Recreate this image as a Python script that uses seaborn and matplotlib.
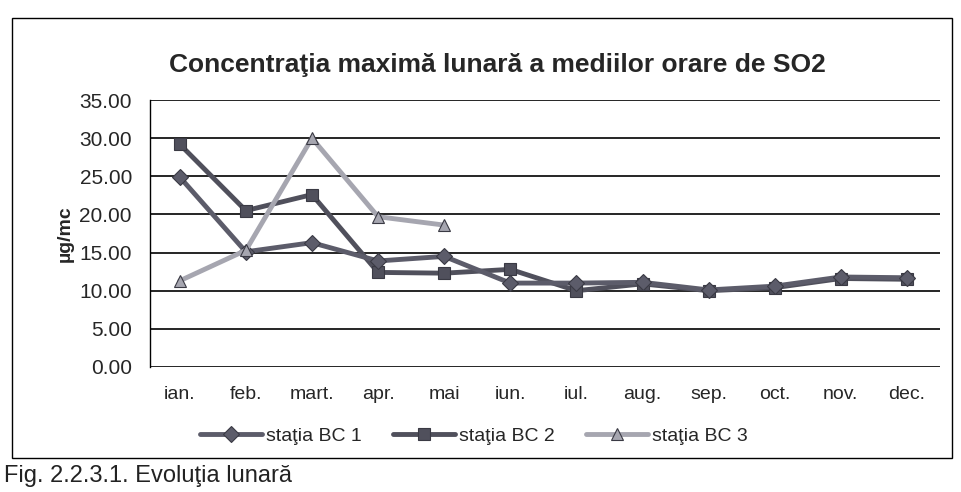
import pandas as pd
import matplotlib.pyplot as plt
import matplotlib.patches as mpatches
import seaborn as sns

# values (µg/mc)
luni = ['ian.', 'feb.', 'mart.', 'apr.', 'mai', 'iun.', 'iul.', 'aug.', 'sep.', 'oct.', 'nov.', 'dec.']
bc1 = [24.9, 15.1, 16.3, 13.9, 14.5, 11.0, 11.0, 11.1, 10.1, 10.6, 11.8, 11.7]
bc2 = [29.2, 20.5, 22.6, 12.4, 12.3, 12.8, 10.0, 10.9, 10.0, 10.4, 11.6, 11.5]
bc3 = [11.3, 15.3, 30.0, 19.7, 18.6, None, None, None, None, None, None, None]
serii = ['staţia BC 1', 'staţia BC 2', 'staţia BC 3']
y_ticks = [0, 5, 10, 15, 20, 25, 30, 35]

sns.set_style('white')
plt.rcParams['font.family'] = ['Liberation Sans', 'DejaVu Sans']

fig = plt.figure(figsize=(9.62, 4.92), dpi=100)
ax = fig.add_axes([150 / 962, 1 - 367 / 492, 790 / 962, 267 / 492])

x = list(range(len(luni)))
stil = {
    'staţia BC 2': dict(color='#50505c', marker='s', markersize=8, z=3),
    'staţia BC 1': dict(color='#5c5c6a', marker='D', markersize=8, z=4),
    'staţia BC 3': dict(color='#a6a6b0', marker='^', markersize=9, z=5),
}
for nume, vals in [('staţia BC 2', bc2), ('staţia BC 1', bc1), ('staţia BC 3', bc3)]:
    df = pd.DataFrame({'x': x, 'v': vals}).dropna()
    s = stil[nume]
    sns.lineplot(data=df, x='x', y='v', ax=ax, color=s['color'], marker=s['marker'],
                 markersize=s['markersize'], markeredgecolor='#3a3a44', markeredgewidth=0.8,
                 linewidth=3.5, label=nume, zorder=s['z'])

# black horizontal gridlines like the Excel chart
for t in y_ticks:
    ax.axhline(t, color='black', linewidth=1.2, zorder=1)

ax.set_xlim(-0.45, 11.5)
ax.set_ylim(0, 35)
ax.set_yticks(y_ticks)
ax.set_yticklabels([f'{t:.2f}' for t in y_ticks], fontsize=15)
ax.set_xticks(x)
ax.set_xticklabels(luni, fontsize=14)
ax.tick_params(axis='y', length=7, width=1, color='black', direction='out', pad=6)
ax.tick_params(axis='x', length=0, pad=14)
for side in ['top', 'right', 'bottom']:
    ax.spines[side].set_visible(False)
ax.spines['left'].set_color('black')
ax.spines['left'].set_linewidth(1)
ax.set_xlabel('')
ax.set_ylabel('µg/mc', fontsize=14, fontweight='bold', labelpad=4)

ax.set_title('Concentraţia maximă lunară a mediilor orare de SO2', fontsize=19,
             fontweight='bold', pad=20, x=0.44)

# legend order as in the reference
h, l = ax.get_legend_handles_labels()
ordine = [l.index(n) for n in serii]
ax.legend([h[i] for i in ordine], serii, loc='upper center', bbox_to_anchor=(0.41, -0.16),
          ncol=3, frameon=False, fontsize=14, handlelength=3.2, handletextpad=0.2,
          columnspacing=1.6)

# outer chart frame and the caption of the scan
fig.patches.append(mpatches.Rectangle((12 / 962, 1 - 458 / 492), 940 / 962, 440 / 492,
                                      transform=fig.transFigure, fill=False,
                                      edgecolor='black', linewidth=1))
fig.text(4 / 962, 1 - 465 / 492, 'Fig. 2.2.3.1. Evoluţia lunară', fontsize=17,
         va='top', ha='left', color='#222222')

plt.savefig('out.png', dpi=100)
